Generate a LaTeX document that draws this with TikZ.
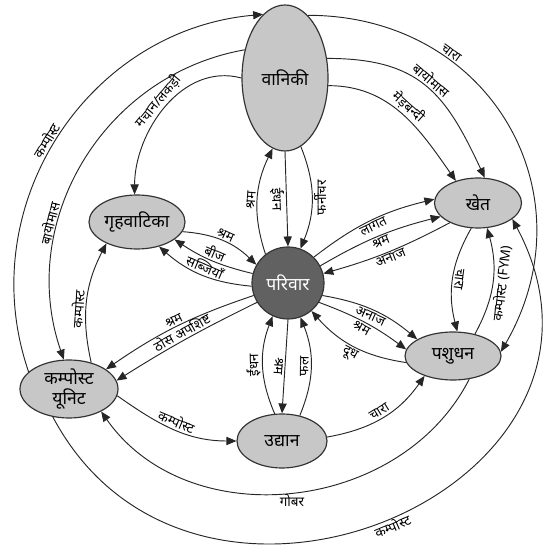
\documentclass[tikz,border=0pt]{standalone}
\usepackage{fontspec}
\newfontfamily\hindi[Script=Devanagari]{Noto Sans}
\usetikzlibrary{shapes.geometric,arrows.meta}

\begin{document}
\begin{tikzpicture}[x=0.03cm,y=0.03cm,
    every node/.style={font=\hindi},
    unit/.style={ellipse,draw=black!80,line width=1pt,fill=black!22,inner sep=0pt,font=\hindi\fontsize{15}{17}\selectfont},
    centre/.style={circle,draw=black!80,line width=1pt,fill=black!62,text=white,minimum size=2.16cm,inner sep=0pt,font=\hindi\fontsize{15}{17}\selectfont},
    flow/.style={draw=black!85,line width=0.8pt,-{Triangle[length=8.5pt,width=7pt]}},
    lab/.style={font=\hindi\fontsize{11.5}{12}\selectfont,inner sep=1.5pt}]
  \useasboundingbox (0,0) rectangle (556,559);
  \node[centre] (pariwar) at (288,276) {परिवार};
  \node[unit,minimum width=2.58cm,minimum height=4.38cm] (van) at (285,481) {वानिकी};
  \node[unit,minimum width=2.88cm,minimum height=1.62cm] (griha) at (137,337) {गृहवाटिका};
  \node[unit,minimum width=2.61cm,minimum height=1.5cm] (khet) at (478,356) {खेत};
  \node[unit,minimum width=2.88cm,minimum height=1.44cm] (pashu) at (453,203) {पशुधन};
  \node[unit,minimum width=2.7cm,minimum height=1.62cm] (udyan) at (282,118) {उद्यान};
  \node[unit,minimum width=2.94cm,minimum height=1.74cm,align=center] (compost) at (69,170) {कम्पोस्ट\\यूनिट};

  \draw[flow] (pariwar.128) to[bend left=22] node[lab,sloped,above]{श्रम} (van.260);
  \draw[flow] (van.south) -- node[lab,sloped,below,allow upside down]{ईंधन} (pariwar.north);
  \draw[flow] (van.283) to[bend left=22] node[lab,sloped,below]{फर्नीचर} (pariwar.70);

  \draw[flow] (udyan.105) to[bend left=22] node[lab,sloped,above,allow upside down]{ईंधन} (pariwar.245);
  \draw[flow] (pariwar.south) -- node[lab,sloped,below,allow upside down]{श्रम} (udyan.north);
  \draw[flow] (udyan.55) to[bend right=22] node[lab,sloped,above]{फल} (pariwar.290);

  \draw[flow] (pariwar.45) to[bend left=12] node[lab,sloped,below]{लागत} (khet.175);
  \draw[flow] (pariwar.28) to[bend left=8] node[lab,sloped,below]{श्रम} (khet.200);
  \draw[flow] (khet.215) to[bend left=6] node[lab,sloped,below]{अनाज} (pariwar.15);

  \draw[flow] (griha.348) to[bend left=20] node[lab,sloped,above]{श्रम} (pariwar.150);
  \draw[flow] (pariwar.165) to[bend left=10] node[lab,sloped,above]{बीज} (griha.335);
  \draw[flow] (pariwar.185) to[bend left=18] node[lab,sloped,above]{सब्जियाँ} (griha.312);

  \draw[flow] (pariwar.-20) to[bend left=15] node[lab,sloped,below]{अनाज} (pashu.155);
  \draw[flow] (pariwar.-32) to[bend left=8] node[lab,sloped,below]{श्रम} (pashu.172);
  \draw[flow] (pashu.188) to[bend left=20] node[lab,sloped,below]{दूध} (pariwar.-50);

  \draw[flow] (pariwar.200) to[bend right=8] node[lab,sloped,above]{श्रम} (compost.28);
  \draw[flow] (pariwar.212) to[bend right=3] node[lab,sloped,above]{ठोस अपशिष्ट} (compost.10);

  \draw[flow] (van.180) to[out=165,in=90] node[lab,sloped,above]{मचान/लकड़ी} (griha.95);
  \draw[flow] (van.350) to[out=0,in=125] node[lab,sloped,above]{मेड़बन्दी} (khet.135);
  \draw[flow] (van.25) to[out=0,in=115,looseness=1.2] node[lab,sloped,above]{बायोमास} (khet.75);
  \draw[flow] (van.70) to[out=0,in=60,looseness=1.2] node[lab,sloped,above,pos=.3]{चारा} (pashu.5);

  \draw[flow] (compost.157) to[out=109,in=185,looseness=1.05] node[lab,sloped,above,pos=.48]{कम्पोस्ट} (van.109);
  \draw[flow] (van.145) to[out=190,in=109,looseness=1.03] node[lab,sloped,above,pos=.67]{बायोमास} (compost.100);
  \draw[flow] (compost.50) to[bend left=20] node[lab,sloped,above,pos=.43]{कम्पोस्ट} (griha.215);
  \draw[flow] (compost.-8) to[out=-35,in=180] node[lab,sloped,above]{कम्पोस्ट} (udyan.west);
  \draw[flow] (udyan.5) to[out=10,in=235] node[lab,sloped,above]{चारा} (pashu.215);

  \draw[flow] (khet.255) to[bend right=22] node[lab,sloped,above,allow upside down]{चारा} (pashu.80);
  \draw[flow] (pashu.45) to[bend right=22] node[lab,sloped,below]{कम्पोस्ट (FYM)} (khet.290);

  \draw[flow] (pashu.-55) to[out=-117,in=-55,looseness=1.05] node[lab,below]{गोबर} (compost.-35);
  \draw[flow] (compost.240) to[out=-62,in=-62,looseness=1.55] node[lab,sloped,below]{कम्पोस्ट} (khet.335);
\end{tikzpicture}
\end{document}
